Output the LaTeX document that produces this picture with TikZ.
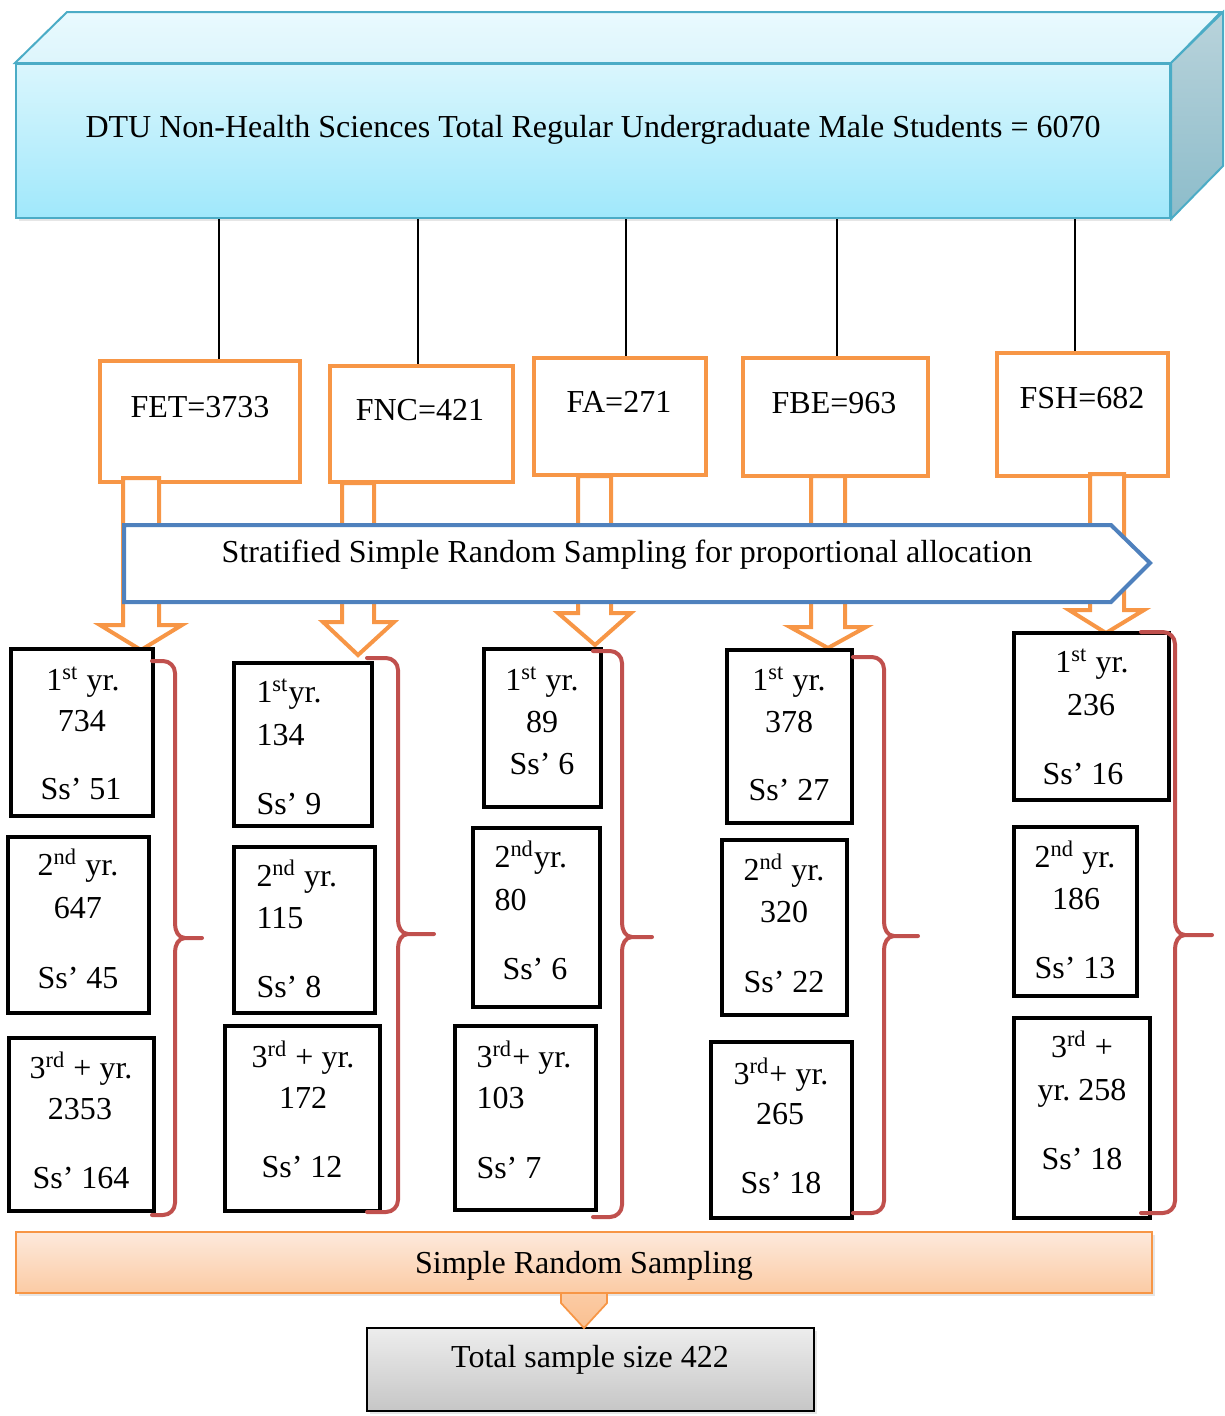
\documentclass[tikz,border=0pt]{standalone}
\usepackage{fontspec}
\setmainfont{Liberation Serif}
\usetikzlibrary{fit,shadows,calc}
\frenchspacing
\definecolor{orng}{HTML}{F79646}
\definecolor{blu}{HTML}{4F81BD}
\definecolor{brc}{HTML}{C0504D}
\definecolor{aqb}{HTML}{4BACC6}
\definecolor{aqtop}{HTML}{DAF6FD}
\definecolor{aqbot}{HTML}{A0E8FB}
\definecolor{aqlid}{HTML}{E9FAFE}
\definecolor{aqlid2}{HTML}{DDF5FC}
\definecolor{aqside}{HTML}{B9D3DB}
\definecolor{aqside2}{HTML}{8CBCCA}
\definecolor{pchtop}{HTML}{FDE9DC}
\definecolor{pchbot}{HTML}{FBCBA4}
\definecolor{grtop}{HTML}{EDEDED}
\definecolor{grbot}{HTML}{C6C6C6}
\newcommand\mkbox[6]{\path (#3+2,#4+2) coordinate (#1-a) (#5-2,#6-2) coordinate (#1-b);
  \node[#2, fit=(#1-a)(#1-b)] (#1) {};}
\newcommand\mkbrace[7]{%
  \draw[brace] (#1,#2) -- (#3-12,#2) to[out=0,in=90] (#3,#2+12) -- (#3,#4-14)
    to[out=-90,in=180] (#3+10,#4) -- (#5,#4)
    (#3+10,#4) to[out=180,in=90] (#3,#4+14) -- (#3,#6-12)
    to[out=-90,in=0] (#3-12,#6) -- (#7,#6);}
\newcommand\st{\textsuperscript{st}}
\newcommand\nd{\textsuperscript{nd}}
\newcommand\rd{\textsuperscript{rd}}
\tikzset{
  every node/.style={font=\fontsize{12.8}{15}\selectfont},
  txt/.style={inner sep=0pt, anchor=base},
  txtl/.style={inner sep=0pt, anchor=base west},
  facbox/.style={draw=orng, line width=1.6pt, inner sep=0pt, fill=white},
  yrbox/.style={draw=black, line width=1.8pt, inner sep=0pt, fill=white},
  brace/.style={draw=brc, line width=1.6pt, line cap=round, line join=round},
  barrow/.style={draw=orng, line width=1.6pt, fill=white, line join=miter},
  conn/.style={draw=black, line width=0.6pt},
  softshadow/.style={drop shadow={opacity=0.2, shadow xshift=1.2pt, shadow yshift=-1.2pt}},
}
\begin{document}
\begin{tikzpicture}[x=0.4pt,y=-0.4pt]
\useasboundingbox (0,0) rectangle (1225,1416);

% ---------- top 3D box ----------
\path (16,64) coordinate (ta) (1170,218) coordinate (tb);
\node[fit=(ta)(tb), inner sep=0pt, top color=aqtop, bottom color=aqbot,
      draw=aqb, line width=0.8pt, softshadow] (top) {};
\shade[top color=aqlid, bottom color=aqlid2, draw=aqb, line width=0.8pt]
  (top.north west) -- ++(52,-51) -- ++(1154,0) -- (top.north east) -- cycle;
\shade[top color=aqside, bottom color=aqside2, draw=aqb, line width=0.8pt]
  (top.north east) -- ++(52,-51) -- ++(0,154) -- (top.south east) -- cycle;
\node[txt] (toptxt) at (593,137) {DTU Non-Health Sciences Total Regular Undergraduate Male Students = 6070};

% ---------- faculty boxes ----------
\mkbox{fet}{facbox}{98}{359}{302}{484}
\mkbox{fnc}{facbox}{328}{364}{515}{484}
\mkbox{fa}{facbox}{532}{356}{708}{477}
\mkbox{fbe}{facbox}{741}{356}{930}{478}
\mkbox{fsh}{facbox}{995}{351}{1170}{478}
\node[txt] (fet-t) at (200,417) {FET=3733};
\node[txt] (fnc-t) at (420,420) {FNC=421};
\node[txt] (fa-t) at (619,412) {FA=271};
\node[txt] (fbe-t) at (834,413) {FBE=963};
\node[txt] (fsh-t) at (1082,408) {FSH=682};

% connectors
\coordinate (v1) at (219,0);
\coordinate (v2) at (418,0);
\coordinate (v3) at (626,0);
\coordinate (v4) at (837,0);
\coordinate (v5) at (1075,0);
\draw[conn] (v1 |- top.south) -- (v1 |- fet.north);
\draw[conn] (v2 |- top.south) -- (v2 |- fnc.north);
\draw[conn] (v3 |- top.south) -- (v3 |- fa.north);
\draw[conn] (v4 |- top.south) -- (v4 |- fbe.north);
\draw[conn] (v5 |- top.south) -- (v5 |- fsh.north);

% ---------- hollow block arrows ----------
\draw[barrow] (123,478) -- (159,478) -- (159,625) -- (182,625) -- (141,650) -- (100,625) -- (123,625) -- cycle;
\draw[barrow] (342,483) -- (374,483) -- (374,622) -- (394,622) -- (358,655) -- (323,622) -- (342,622) -- cycle;
\draw[barrow] (578,476) -- (611,476) -- (611,613) -- (631,613) -- (595,645) -- (558,613) -- (578,613) -- cycle;
\draw[barrow] (811,476) -- (845,476) -- (845,627) -- (866,627) -- (828,648) -- (790,627) -- (811,627) -- cycle;
\draw[barrow] (1090,474) -- (1124,474) -- (1124,610) -- (1144,610) -- (1106,633) -- (1069,610) -- (1090,610) -- cycle;

% ---------- blue chevron ----------
\draw[draw=blu, line width=1.6pt, fill=white, line join=miter]
  (124,525) -- (1111,525) -- (1150,563) -- (1111,602) -- (124,602) -- cycle;
\node[txt] (sst) at (627,562) {Stratified Simple Random Sampling for proportional allocation};

% ---------- year boxes ----------
\mkbox{c1b1}{yrbox}{9}{647}{155}{818}
\mkbox{c1b2}{yrbox}{6}{835}{151}{1015}
\mkbox{c1b3}{yrbox}{7}{1036}{156}{1213}
\mkbox{c2b1}{yrbox}{232}{661}{374}{828}
\mkbox{c2b2}{yrbox}{232}{845}{377}{1015}
\mkbox{c2b3}{yrbox}{223}{1024}{382}{1213}
\mkbox{c3b1}{yrbox}{482}{647}{603}{809}
\mkbox{c3b2}{yrbox}{471}{826}{602}{1009}
\mkbox{c3b3}{yrbox}{453}{1024}{598}{1212}
\mkbox{c4b1}{yrbox}{725}{648}{854}{825}
\mkbox{c4b2}{yrbox}{720}{838}{849}{1017}
\mkbox{c4b3}{yrbox}{709}{1040}{854}{1220}
\mkbox{c5b1}{yrbox}{1012}{631}{1171}{802}
\mkbox{c5b2}{yrbox}{1012}{825}{1139}{998}
\mkbox{c5b3}{yrbox}{1012}{1016}{1152}{1220}

% column 1
\node[txt] (c1b1a) at (83,690) {1\st{} yr.};
\node[txt] (c1b1b) at (82,731) {734};
\node[txt] (c1b1c) at (81,799) {Ss’ 51};
\node[txt] (c1b2a) at (78,875) {2\nd{} yr.};
\node[txt] (c1b2b) at (78,918) {647};
\node[txt] (c1b2c) at (78,988) {Ss’ 45};
\node[txt] (c1b3a) at (81,1078) {3\rd{} + yr.};
\node[txt] (c1b3b) at (80,1119) {2353};
\node[txt] (c1b3c) at (81,1188) {Ss’ 164};
% column 2
\node[txtl] (c2b1a) at (256,702) {1\st yr.};
\node[txtl] (c2b1b) at (256,745) {134};
\node[txtl] (c2b1c) at (256,814) {Ss’ 9};
\node[txtl] (c2b2a) at (256,886) {2\nd{} yr.};
\node[txtl] (c2b2b) at (256,928) {115};
\node[txtl] (c2b2c) at (256,997) {Ss’ 8};
\node[txt] (c2b3a) at (303,1067) {3\rd{} + yr.};
\node[txt] (c2b3b) at (303,1108) {172};
\node[txt] (c2b3c) at (302,1177) {Ss’ 12};
% column 3
\node[txt] (c3b1a) at (542,690) {1\st{} yr.};
\node[txt] (c3b1b) at (542,732) {89};
\node[txt] (c3b1c) at (542,774) {Ss’ 6};
\node[txtl] (c3b2a) at (494,867) {2\nd yr.};
\node[txtl] (c3b2b) at (494,910) {80};
\node[txtl] (c3b2c) at (502,979) {Ss’ 6};
\node[txtl] (c3b3a) at (476,1067) {3\rd+ yr.};
\node[txtl] (c3b3b) at (476,1108) {103};
\node[txtl] (c3b3c) at (476,1178) {Ss’ 7};
% column 4
\node[txt] (c4b1a) at (789,690) {1\st{} yr.};
\node[txt] (c4b1b) at (789,732) {378};
\node[txt] (c4b1c) at (789,800) {Ss’ 27};
\node[txt] (c4b2a) at (784,880) {2\nd{} yr.};
\node[txt] (c4b2b) at (784,922) {320};
\node[txt] (c4b2c) at (784,992) {Ss’ 22};
\node[txt] (c4b3a) at (781,1084) {3\rd+ yr.};
\node[txt] (c4b3b) at (780,1124) {265};
\node[txt] (c4b3c) at (781,1193) {Ss’ 18};
% column 5
\node[txt] (c5b1a) at (1092,672) {1\st{} yr.};
\node[txt] (c5b1b) at (1091,715) {236};
\node[txt] (c5b1c) at (1083,784) {Ss’ 16};
\node[txt] (c5b2a) at (1075,867) {2\nd{} yr.};
\node[txt] (c5b2b) at (1076,909) {186};
\node[txt] (c5b2c) at (1075,978) {Ss’ 13};
\node[txt] (c5b3a) at (1082,1057) {3\rd{} +};
\node[txt] (c5b3b) at (1082,1100) {yr. 258};
\node[txt] (c5b3c) at (1082,1169) {Ss’ 18};

% ---------- braces ----------
\mkbrace{152}{661}{175}{938}{202}{1215}{152}
\mkbrace{367}{658}{398}{934}{434}{1212}{367}
\mkbrace{593}{651}{622}{937}{652}{1217}{593}
\mkbrace{853}{657}{884}{936}{918}{1213}{853}
\mkbrace{1141}{632}{1175}{935}{1212}{1213}{1141}

% ---------- bottom ----------
\path (16,1232) coordinate (ba) (1152,1293) coordinate (bb);
\node[fit=(ba)(bb), inner sep=0pt, top color=pchtop, bottom color=pchbot,
      draw=orng, line width=0.7pt, softshadow] (srs) {};
\node[txt] (srs-t) at (584,1273) {Simple Random Sampling};
\path (367,1328) coordinate (tta) (814,1411) coordinate (ttb);
\node[fit=(tta)(ttb), inner sep=0pt, top color=grtop, bottom color=grbot,
      draw=black, line width=0.9pt, softshadow] (tot) {};
\node[txt] (tot-t) at (590,1367) {Total sample size 422};
\shade[top color=pchbot, bottom color=pchbot!80!orng, draw=orng, line width=0.7pt, line join=miter]
  (561,1293) -- (607,1293) -- (607,1303) -- (584,1328) -- (561,1303) -- cycle;
\end{tikzpicture}
\end{document}
